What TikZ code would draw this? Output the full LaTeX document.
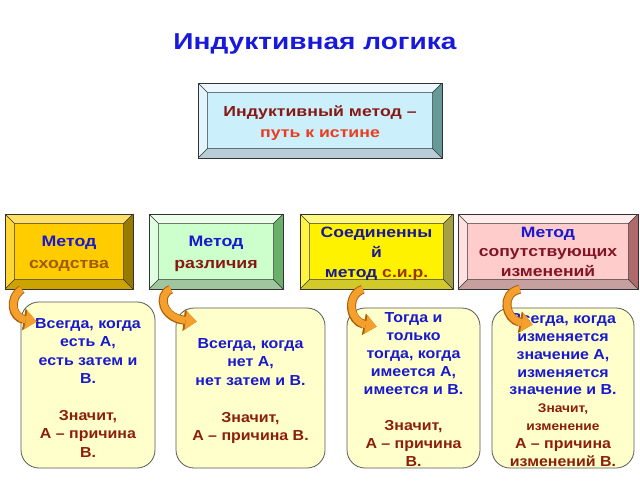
\documentclass[tikz,border=0pt]{standalone}
\usepackage{fontspec}
\setmainfont[FakeStretch=1.1]{Liberation Sans}
\newfontfamily\titlefont[FakeStretch=1.22]{Liberation Sans}
\newfontfamily\boxfont[FakeStretch=1.17]{Liberation Sans}
\usetikzlibrary{arrows.meta}
\definecolor{titleblue}{RGB}{25,25,220}
\definecolor{tblue}{RGB}{25,25,205}
\definecolor{navy}{RGB}{25,25,150}
\definecolor{tdred}{RGB}{135,25,20}
\definecolor{tred}{RGB}{235,60,30}
\definecolor{tbrown}{RGB}{160,90,0}
\definecolor{tbrown2}{RGB}{150,55,0}
\definecolor{tmaroon}{RGB}{130,20,35}
\definecolor{lowtxt}{RGB}{140,30,10}
\definecolor{ltyellow}{RGB}{255,255,204}
\definecolor{arrowfill}{RGB}{245,160,45}
\definecolor{arrowline}{RGB}{170,95,10}
\definecolor{gold}{RGB}{255,204,0}
\definecolor{goldT}{RGB}{255,224,102}
\definecolor{goldL}{RGB}{255,214,51}
\definecolor{goldR}{RGB}{153,122,0}
\definecolor{goldB}{RGB}{204,163,0}
\newcommand\bevelfill[4]{%
  \coordinate (bNW) at (path picture bounding box.north west);
  \coordinate (bNE) at (path picture bounding box.north east);
  \coordinate (bSW) at (path picture bounding box.south west);
  \coordinate (bSE) at (path picture bounding box.south east);
  \coordinate (iNW) at ([xshift=9.5pt,yshift=-9.5pt]bNW);
  \coordinate (iNE) at ([xshift=-9.5pt,yshift=-9.5pt]bNE);
  \coordinate (iSW) at ([xshift=9.5pt,yshift=9.5pt]bSW);
  \coordinate (iSE) at ([xshift=-9.5pt,yshift=9.5pt]bSE);
  \fill[#1] (bNW)--(bNE)--(iNE)--(iNW)--cycle;
  \fill[#2] (bNW)--(iNW)--(iSW)--(bSW)--cycle;
  \fill[#3] (bNE)--(bSE)--(iSE)--(iNE)--cycle;
  \fill[#4] (bSW)--(iSW)--(iSE)--(bSE)--cycle;
  \draw[black!80,line width=0.5pt] (iNW) rectangle (iSE)
     (bNW)--(iNW) (bNE)--(iNE) (bSW)--(iSW) (bSE)--(iSE);
}
\tikzset{
  bevelbox/.style n args={5}{fill=#1, draw=black!80, line width=0.5pt,
     path picture={\bevelfill{#2}{#3}{#4}{#5}}, inner sep=0pt},
  boxtext/.style={inner sep=0pt, align=center,
     font=\boxfont\bfseries\fontsize{15.2}{22}\selectfont},
  lowbox/.style={draw=black!65, fill=ltyellow, rounded corners=18pt,
     line width=0.8pt, inner sep=0pt},
  lowtext/.style={inner sep=0pt, align=center, text=tblue,
     font=\bfseries\fontsize{14.5}{18.4}\selectfont},
  arrowedge/.style={line width=9pt, draw=arrowline,
     -{Triangle[width=22pt,length=13pt,line width=0pt]}},
  arrowbody/.style={line width=7pt, draw=arrowfill,
     -{Triangle[width=19pt,length=11pt,line width=0pt]}},
}
\begin{document}
\begin{tikzpicture}[x=1pt,y=-1pt]
\useasboundingbox (0,0) rectangle (640,480);
\fill[white] (0,0) rectangle (640,480);

\node[font=\titlefont\bfseries\fontsize{23}{26}\selectfont, text=titleblue] (title) at (315,44) {Индуктивная логика};

% top box
\node[bevelbox={cyan!20}{cyan!8}{cyan!12}{teal!50!gray!80}{cyan!30!gray!50},
      minimum width=244, minimum height=75] (top) at (320,120.5) {};
\node[boxtext, font=\titlefont\bfseries\fontsize{14.5}{21.5}\selectfont] (topt) at ([yshift=-2.5pt]top.center)
  {\textcolor{tdred}{Индуктивный метод –}\\\textcolor{tred}{путь к истине}};

% method boxes
\node[bevelbox={gold}{goldT}{goldL}{goldR}{goldB},
      minimum width=128, minimum height=75] (b1) at (69,251.5) {};
\node[boxtext] (b1t) at ([yshift=-2pt]b1.center)
  {\textcolor{tblue}{Метод}\\\textcolor{tbrown}{сходства}};
\node[bevelbox={green!20}{green!8}{green!12}{green!30!gray!90}{green!25!gray!60},
      minimum width=134, minimum height=75] (b2) at (216,251.5) {};
\node[boxtext] (b2t) at ([yshift=-2pt]b2.center)
  {\textcolor{tblue}{Метод}\\\textcolor{tdred}{различия}};
\node[bevelbox={yellow}{yellow!50}{yellow!75}{yellow!60!black}{yellow!80!black},
      minimum width=153, minimum height=75] (b3) at (376.5,251.5) {};
\node[boxtext, font=\boxfont\bfseries\fontsize{15}{20}\selectfont] (b3t) at ([yshift=-2pt]b3.center)
  {\textcolor{navy}{Соединенны}\\\textcolor{navy}{й}\\\textcolor{navy}{метод} \textcolor{tbrown2}{с.и.р.}};
\node[bevelbox={red!20}{red!8}{red!12}{red!30!gray!90}{red!25!gray!60},
      minimum width=180, minimum height=75] (b4) at (548,251.5) {};
\node[boxtext, font=\boxfont\bfseries\fontsize{15}{19.5}\selectfont] (b4t) at (b4.center)
  {\textcolor{tblue}{Метод}\\\textcolor{tmaroon}{сопутствующих}\\\textcolor{tmaroon}{изменений}};

% lower boxes
\node[lowbox, minimum width=134, minimum height=166] (d1) at (88,385) {};
\node[lowtext] (d1t) at ([yshift=-3pt]d1.center)
  {Всегда, когда\\есть А,\\есть затем и\\В.\\[18.4pt]
   \textcolor{lowtxt}{Значит,}\\\textcolor{lowtxt}{А – причина}\\\textcolor{lowtxt}{В.}};
\node[lowbox, minimum width=149, minimum height=160] (d2) at (250.5,388) {};
\node[lowtext] (d2t) at ([yshift=-3pt]d2.center)
  {Всегда, когда\\нет А,\\нет затем и В.\\[18.4pt]
   \textcolor{lowtxt}{Значит,}\\\textcolor{lowtxt}{А – причина В.}};
\node[lowbox, minimum width=133, minimum height=160] (d3) at (413.5,388) {};
\node[lowtext, font=\bfseries\fontsize{14.5}{18}\selectfont] (d3t) at ([yshift=-1.5pt]d3.center)
  {Тогда и\\только\\тогда, когда\\имеется А,\\имеется и В.\\[18pt]
   \textcolor{lowtxt}{Значит,}\\\textcolor{lowtxt}{А – причина}\\\textcolor{lowtxt}{В.}};
\node[lowbox, minimum width=142, minimum height=160] (d4) at (563,388) {};
\node[lowtext, font=\bfseries\fontsize{14.5}{17.9}\selectfont] (d4t) at ([yshift=-2pt]d4.center)
  {Всегда, когда\\изменяется\\значение А,\\изменяется\\значение и В.\\
   \textcolor{lowtxt}{\fontsize{12.5}{17.9}\selectfont Значит,}\\
   \textcolor{lowtxt}{\fontsize{12.5}{17.9}\selectfont изменение}\\
   \textcolor{lowtxt}{А – причина}\\\textcolor{lowtxt}{изменений В.}};

% curved arrows
\coordinate (s1) at ([xshift=17pt]b1.south west);
\coordinate (t1) at ([xshift=16pt,yshift=-20pt]d1.north west);
\coordinate (s2) at ([xshift=22pt]b2.south west);
\coordinate (t2) at ([xshift=21pt,yshift=-14pt]d2.north west);
\coordinate (s3) at ([xshift=63pt]b3.south west);
\coordinate (t3) at ([xshift=30pt,yshift=-19pt]d3.north west);
\coordinate (s4) at ([xshift=62pt]b4.south west);
\coordinate (t4) at ([xshift=41pt,yshift=-17pt]d4.north west);

\foreach \i/\ca/\cb in {1/{(-14,10)}/{(-24,-4)}, 2/{(-14,6)}/{(-34,-4)},
                         3/{(-17,6)}/{(-27,-5)}, 4/{(-20,4)}/{(-27,-5)}}
{
  \draw[arrowedge] (s\i) .. controls +\ca and +\cb .. (t\i);
  \draw[arrowbody] (s\i) .. controls +\ca and +\cb .. (t\i);
}
\end{tikzpicture}
\end{document}
